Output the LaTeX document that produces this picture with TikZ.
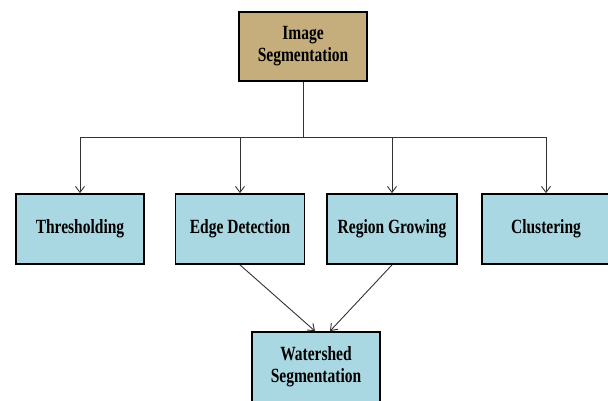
\documentclass[tikz,border=0pt]{standalone}
\usepackage{fontspec}
\setmainfont{Liberation Serif}
\usetikzlibrary{arrows.meta}
\definecolor{tanfill}{RGB}{198,174,124}
\definecolor{bluefill}{RGB}{170,216,226}
\definecolor{linecol}{RGB}{50,50,50}
\newcommand{\boxlbl}[1]{\scalebox{1}[1.3]{\begin{tabular}{@{}c@{}}#1\end{tabular}}}
\tikzset{
  blk/.style={draw=black, line width=1.8pt, minimum height=69pt, inner sep=0pt,
    font=\fontsize{15.5}{17}\selectfont\bfseries, text=black},
  topblk/.style={blk, fill=tanfill},
  subblk/.style={blk, fill=bluefill},
  conn/.style={draw=linecol, line width=0.9pt},
  arr/.style={conn, -{Straight Barb[length=6pt,width=9pt,line width=0.9pt]}}
}
\begin{document}
\begin{tikzpicture}[x=1pt,y=-1pt]
\useasboundingbox (0,0) rectangle (608,400);
\node[topblk, minimum width=128pt] (top) at (303,46.5) {\boxlbl{Image\\Segmentation}};
\node[subblk, minimum width=128pt, minimum height=70pt] (thr) at (80,229) {\boxlbl{Thresholding}};
\node[subblk, minimum width=129pt, minimum height=70pt] (edge) at (240,229) {\boxlbl{Edge Detection}};
\node[subblk, minimum width=130pt, minimum height=70pt] (reg) at (392,229) {\boxlbl{Region Growing}};
\node[subblk, minimum width=128pt, minimum height=70pt] (clu) at (546,229) {\boxlbl{Clustering}};
\node[subblk, minimum width=128pt, minimum height=70pt] (ws) at (316,367) {\boxlbl{Watershed\\Segmentation}};
\coordinate (bus) at (303,137);
\coordinate (wsL) at ([xshift=-1pt]ws.north);
\coordinate (wsR) at ([xshift=14pt]ws.north);
\draw[conn] (top.south) -- (bus);
\draw[arr] (bus) -| (thr.north);
\draw[arr] (bus) -| (edge.north);
\draw[arr] (bus) -| (reg.north);
\draw[arr] (bus) -| (clu.north);
\draw[arr] (edge.south) -- (wsL);
\draw[arr] (reg.south) -- (wsR);
\end{tikzpicture}
\end{document}
